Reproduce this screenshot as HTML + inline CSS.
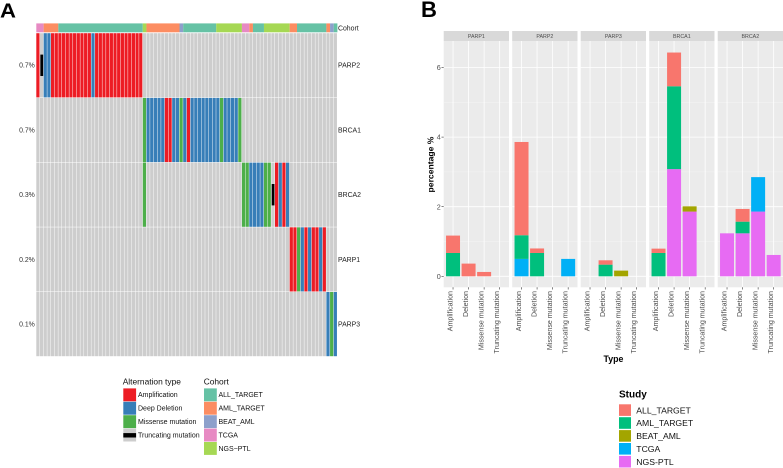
<!DOCTYPE html>
<html lang="en">
<head>
<meta charset="utf-8">
<title>Alterations oncoprint and percentage by type</title>
<style>
html,body{margin:0;padding:0;background:#fff;}
body{width:783px;height:468px;overflow:hidden;}
svg{display:block;font-family:"Liberation Sans",Arial,sans-serif;filter:blur(0.3px);}
</style>
</head>
<body>
<svg id="figure" width="783" height="468" viewBox="0 0 783 468" xmlns="http://www.w3.org/2000/svg"></svg>
<script>
/* ---------- Panel A data ---------- */
const oncoGenes = ['PARP2', 'BRCA1', 'BRCA2', 'PARP1', 'PARP3'];
const oncoPercents = ['0.7%', '0.7%', '0.3%', '0.2%', '0.1%'];
const oncoColumnCount = 82;
const cohortRuns = [
  ['TCGA', 2], ['AML_TARGET', 4], ['ALL_TARGET', 23], ['NGS-PTL', 1], ['AML_TARGET', 9],
  ['BEAT_AML', 1], ['ALL_TARGET', 9], ['NGS-PTL', 7], ['TCGA', 2], ['AML_TARGET', 1],
  ['ALL_TARGET', 3], ['NGS-PTL', 7], ['AML_TARGET', 2], ['ALL_TARGET', 8], ['AML_TARGET', 1],
  ['BEAT_AML', 1], ['ALL_TARGET', 1]
];
/* each gene: [first sample index, alteration codes for consecutive samples] */
const alterationsPARP2 = [[0, 'ATDDAAAAAAAAAAADAAAAAAAAAAAAA']];
const alterationsBRCA1 = [[29, 'MDDDDDAADDMDADDDDDDDDMDDDDM']];
const alterationsBRCA2 = [[29, 'M'], [56, 'MMDDDDMMTADAD']];
const alterationsPARP1 = [[69, 'AAMDADAADA']];
const alterationsPARP3 = [[79, 'DMD']];
const alterationNames = { A: 'Amplification', D: 'Deep Deletion', M: 'Missense mutation', T: 'Truncating mutation' };
const cohortNames = ['ALL_TARGET', 'AML_TARGET', 'BEAT_AML', 'TCGA', 'NGS\u2212PTL'];

/* ---------- Panel B data ---------- */
const facetGenes = ['PARP1', 'PARP2', 'PARP3', 'BRCA1', 'BRCA2'];
const mutationTypes = ['Amplification', 'Deletion', 'Missense mutation', 'Truncating mutation'];
const studies = ['ALL_TARGET', 'AML_TARGET', 'BEAT_AML', 'TCGA', 'NGS-PTL'];
const yTicks = [0, 2, 4, 6];
/* rows = facet gene, columns = mutation type */
const valuesAllTarget = [[0.50, 0.365, 0.125, 0], [2.68, 0.13, 0, 0], [0, 0.125, 0, 0], [0.125, 0.97, 0, 0], [0, 0.365, 0, 0]];
const valuesAmlTarget = [[0.67, 0, 0, 0], [0.68, 0.67, 0, 0], [0, 0.335, 0, 0], [0.67, 2.38, 0, 0], [0, 0.335, 0, 0]];
const valuesBeatAml   = [[0, 0, 0, 0], [0, 0, 0, 0], [0, 0, 0.163, 0], [0, 0, 0.15, 0], [0, 0, 0, 0]];
const valuesTcga      = [[0, 0, 0, 0], [0.5, 0, 0, 0.5], [0, 0, 0, 0], [0, 0, 0, 0], [0, 0, 0.99, 0]];
const valuesNgsPtl    = [[0, 0, 0, 0], [0, 0, 0, 0], [0, 0, 0, 0], [0, 3.08, 1.86, 0], [1.235, 1.235, 1.86, 0.613]];

/* ---------- Styling ---------- */
const alterationColor = { A: '#ED1C24', D: '#377EB8', M: '#4DAF4A', T: '#000000' };
const cohortColor = { 'ALL_TARGET': '#66C2A5', 'AML_TARGET': '#FC8D62', 'BEAT_AML': '#8DA0CB', 'TCGA': '#E78AC3', 'NGS-PTL': '#A6D854', 'NGS\u2212PTL': '#A6D854' };
const studyColor = { 'ALL_TARGET': '#F8766D', 'AML_TARGET': '#00BF7D', 'BEAT_AML': '#A3A500', 'TCGA': '#00B0F6', 'NGS-PTL': '#E76BF3' };

const svg = document.getElementById('figure');
const NS = 'http://www.w3.org/2000/svg';

function node(tag, attrs, parent) {
  const el = document.createElementNS(NS, tag);
  for (const k in attrs) el.setAttribute(k, attrs[k]);
  (parent || svg).appendChild(el);
  return el;
}
function label(str, x, y, size, fill, extra, parent) {
  const el = node('text', Object.assign({ x: x, y: y, 'font-size': size, fill: fill }, extra || {}), parent);
  el.textContent = str;
  return el;
}

/* ---------- Panel A ---------- */
const oncoLeft = 36.3, oncoStep = 3.672, rowTop = 33.2, rowStep = 64.7, rowHeight = 64.2;
const colX = i => oncoLeft + i * oncoStep;
const rowY = r => rowTop + r * rowStep;

let panelLetter = label('A', 0, 17.5, 20, '#000', { 'font-weight': 'bold', textLength: 16, lengthAdjust: 'spacingAndGlyphs' });



const oncoGroup = node('g', {});



let cohortIndex = 0;
cohortRuns.forEach(function (run) {
  const seg = node('rect', { x: colX(cohortIndex), y: 23.4, width: run[1] * oncoStep, height: 8.9, fill: cohortColor[run[0]] }, oncoGroup);
  
  
  cohortIndex += run[1];
});
let cohortTrackLabel = label('Cohort', 338, 30.5, 6.9, '#222', {}, oncoGroup);



const alterationRows = [alterationsPARP2, alterationsBRCA1, alterationsBRCA2, alterationsPARP1, alterationsPARP3];
oncoGenes.forEach(function (gene, r) {
  const codes = new Array(oncoColumnCount).fill('');
  alterationRows[r].forEach(function (block) {
    block[1].split('').forEach(function (code, k) { codes[block[0] + k] = code; });
  });
  for (let i = 0; i < oncoColumnCount; i++) {
    const code = codes[i];
    const solid = code && code !== 'T';
    const cell = node('rect', { x: colX(i), y: rowY(r), width: oncoStep - 0.45, height: rowHeight, fill: solid ? alterationColor[code] : '#CDCDCD' }, oncoGroup);
    
    
    if (code === 'T') {
      const mark = node('rect', { x: colX(i) + 0.4, y: rowY(r) + rowHeight / 3, width: oncoStep - 0.9, height: rowHeight / 3, fill: alterationColor.T }, oncoGroup);
      
      
    }
  }
  const pct = label(oncoPercents[r], 34.8, rowY(r) + rowHeight / 2 + 2.4, 6.9, '#333', { 'text-anchor': 'end' }, oncoGroup);
  
  
  const geneLabel = label(gene, 338, rowY(r) + rowHeight / 2 + 2.4, 6.9, '#222', {}, oncoGroup);
  
  
});

/* Panel A legends */
const legendA = node('g', {});


let legendATitle = label('Alternation type', 122.7, 384.5, 8.4, '#111', {}, legendA);


Object.keys(alterationNames).forEach(function (code, i) {
  const y = 388.4 + i * 13.4;
  const truncating = code === 'T';
  const swatch = node('rect', { x: 123.3, y: y, width: 12.8, height: 12.9, fill: truncating ? '#CDCDCD' : alterationColor[code] }, legendA);
  
  
  if (truncating) {
    const bar = node('rect', { x: 123.3, y: y + 4.5, width: 12.8, height: 4.4, fill: '#000' }, legendA);
    
    
  }
  const text = label(alterationNames[code], 138, y + 8.8, 7, '#111', {}, legendA);
  
  
});

const legendC = node('g', {});


let legendCTitle = label('Cohort', 203.7, 384.5, 8.4, '#111', {}, legendC);


cohortNames.forEach(function (name, i) {
  const y = 388.4 + i * 13.4;
  const swatch = node('rect', { x: 204, y: y, width: 12.8, height: 12.9, fill: cohortColor[name] }, legendC);
  
  
  const text = label(name, 218.5, y + 8.8, 7, '#111', {}, legendC);
  
  
});

/* ---------- Panel B ---------- */
let panelLetterB = label('B', 421, 17, 22, '#000', { 'font-weight': 'bold' });



const facetLeft = 443.7, facetWidth = 65.3, facetGap = 3.2;
const stripTop = 31, stripHeight = 10, panelTop = 41, panelBottom = 287.3;
const unitsX = mutationTypes.length - 1 + 1.2;
const bandX = function (facet, c) { return facetLeft + facet * (facetWidth + facetGap) + (0.6 + c) * facetWidth / unitsX; };
const barWidth = 0.9 * facetWidth / unitsX;
const yScale = function (v) { return 276.3 - 34.8 * v; };

const seriesValues = [valuesAllTarget, valuesAmlTarget, valuesBeatAml, valuesTcga, valuesNgsPtl];
const yMaxGrid = 7;

facetGenes.forEach(function (gene, f) {
  const px = facetLeft + f * (facetWidth + facetGap);
  const g = node('g', {});
  
  

  const strip = node('rect', { x: px, y: stripTop, width: facetWidth, height: stripHeight, fill: '#D9D9D9' }, g);
  
  
  const stripText = label(gene, px + facetWidth / 2, 37.9, 5.3, '#4D4D4D', { 'text-anchor': 'middle' }, g);
  
  

  const bg = node('rect', { x: px, y: panelTop, width: facetWidth, height: panelBottom - panelTop, fill: '#EBEBEB' }, g);
  
  

  for (let v = 1; v < yMaxGrid; v += 2) {
    const minor = node('line', { x1: px, x2: px + facetWidth, y1: yScale(v), y2: yScale(v), stroke: '#F6F6F6', 'stroke-width': 0.4 }, g);
    
    
  }
  yTicks.forEach(function (v) {
    const major = node('line', { x1: px, x2: px + facetWidth, y1: yScale(v), y2: yScale(v), stroke: '#FFFFFF', 'stroke-width': 0.8 }, g);
    
    
  });

  mutationTypes.forEach(function (type, c) {
    const cx = bandX(f, c);
    const vline = node('line', { x1: cx, x2: cx, y1: panelTop, y2: panelBottom, stroke: '#FFFFFF', 'stroke-width': 0.8 }, g);
    
    
    const tick = node('line', { x1: cx, x2: cx, y1: panelBottom, y2: panelBottom + 2.2, stroke: '#333', 'stroke-width': 0.6 }, g);
    
    
    const tx = cx - 0.5, ty = 291;
    const tickText = label(type, tx, ty, 7.1, '#4D4D4D', { 'text-anchor': 'end', transform: 'rotate(-90 ' + tx + ' ' + ty + ')' }, g);
    
    
  });

  mutationTypes.forEach(function (type, c) {
    let running = 0;
    for (let s = studies.length - 1; s >= 0; s--) {
      const value = seriesValues[s][f][c];
      if (!value) continue;
      const top = yScale(running + value);
      const bottom = yScale(running);
      const bar = node('rect', { x: bandX(f, c) - barWidth / 2, y: top, width: barWidth, height: bottom - top, fill: studyColor[studies[s]] }, g);
      
      
      running += value;
    }
  });
});

yTicks.forEach(function (v) {
  const tick = node('line', { x1: facetLeft - 2.2, x2: facetLeft, y1: yScale(v), y2: yScale(v), stroke: '#333', 'stroke-width': 0.6 });
  
  
  const text = label(String(v), facetLeft - 3, yScale(v) + 2.6, 7.2, '#4D4D4D', { 'text-anchor': 'end' });
  
  
});

let yTitle = label('percentage %', 0, 0, 8.6, '#000', { 'font-weight': 'bold', 'text-anchor': 'middle', transform: 'translate(433.5 164.5) rotate(-90)' });


let xTitle = label('Type', 613.5, 362, 8.8, '#000', { 'font-weight': 'bold', 'text-anchor': 'middle' });



const legendB = node('g', {});


let legendBTitle = label('Study', 619, 397.5, 10, '#000', { 'font-weight': 'bold' }, legendB);


studies.forEach(function (name, i) {
  const y = 404.3 + i * 12.9;
  const swatch = node('rect', { x: 619, y: y, width: 12, height: 11.6, fill: studyColor[name] }, legendB);
  
  
  const text = label(name, 636.3, y + 9, 8.65, '#111', {}, legendB);
  
  
});
</script>
</body>
</html>
